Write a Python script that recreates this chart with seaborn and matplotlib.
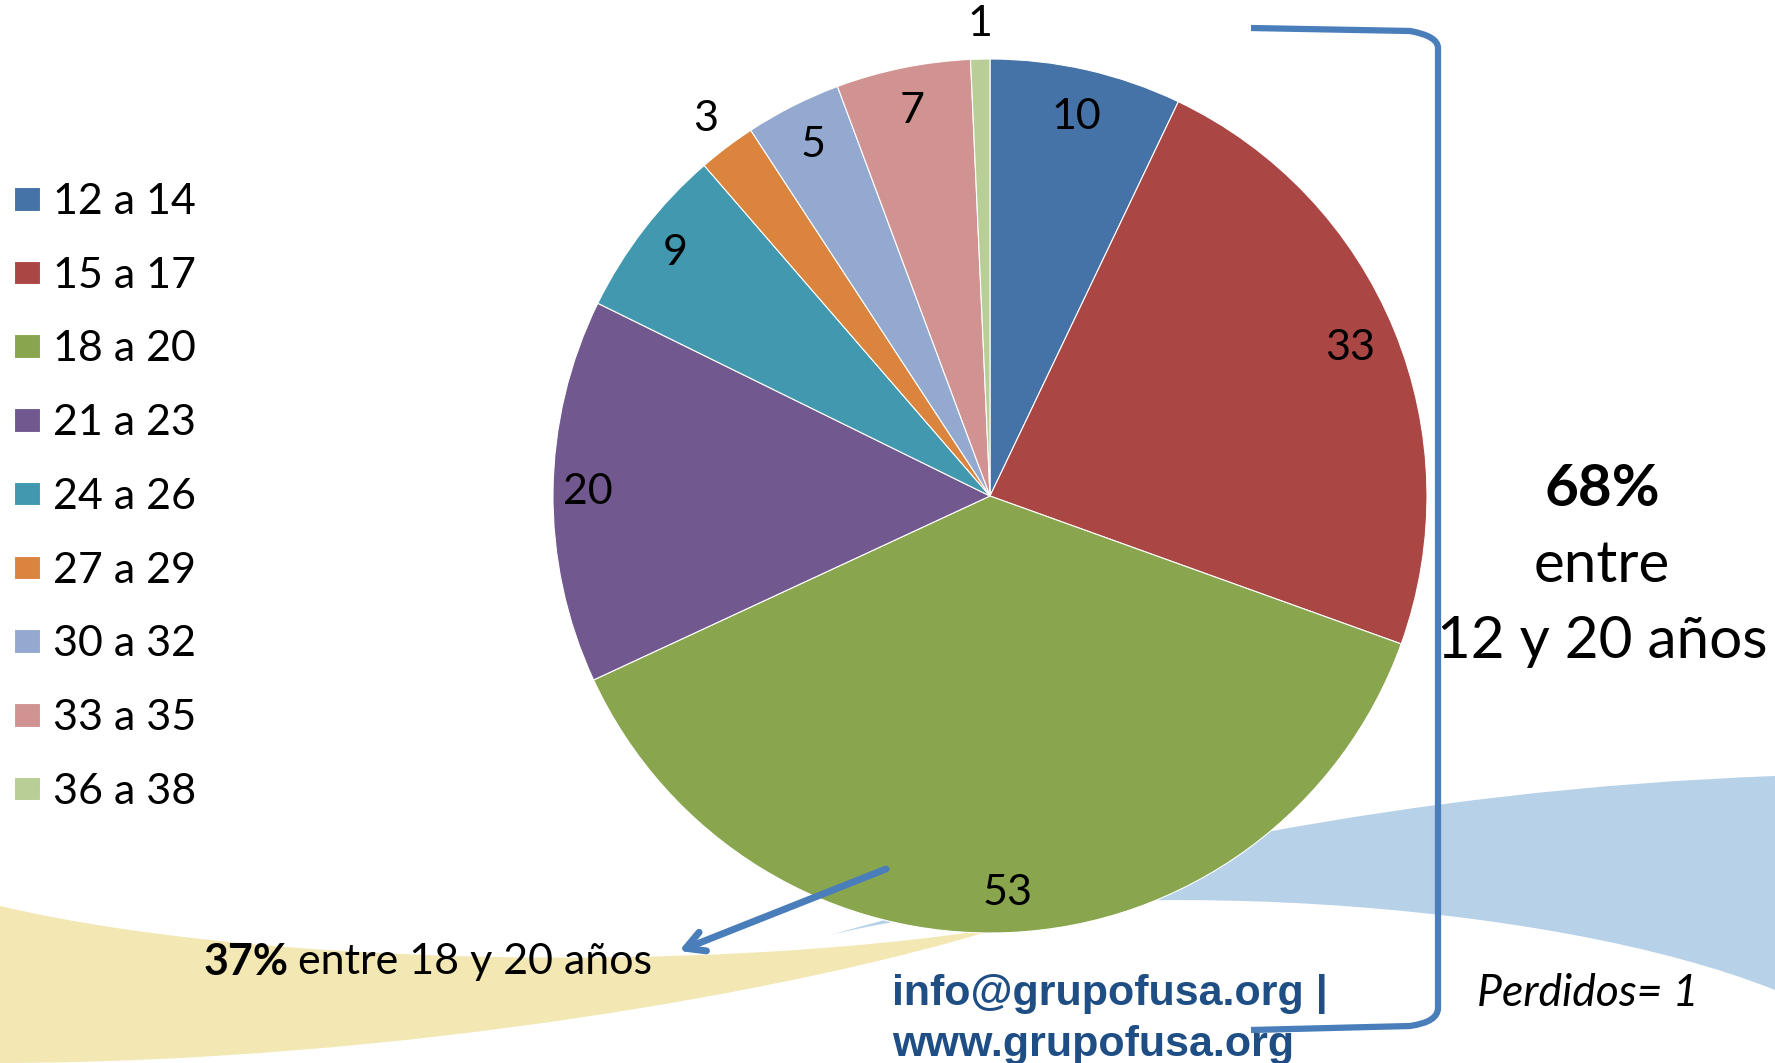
import matplotlib
matplotlib.use('Agg')
import matplotlib.pyplot as plt
import seaborn as sns
import numpy as np
from matplotlib.path import Path
from matplotlib.patches import PathPatch
from matplotlib import font_manager as fm

# ---------------- data ----------------
categories = ['12 a 14', '15 a 17', '18 a 20', '21 a 23', '24 a 26',
              '27 a 29', '30 a 32', '33 a 35', '36 a 38']
values = [10, 33, 53, 20, 9, 3, 5, 7, 1]
value_labels = [str(v) for v in values]
colors_hex = ['#4572A7', '#AA4643', '#89A54E', '#71588F', '#4198AF',
              '#DB843D', '#93A9CF', '#D19392', '#B9CD96']
label_dist = [0.89, 0.89, 0.91, 0.92, 0.91, 1.08, 0.90, 0.90, 1.08]

# ---------------- style ----------------
sns.set_theme(style='white')
names = {f.name for f in fm.fontManager.ttflist}
main_font = 'Lato' if 'Lato' in names else 'Open Sans'
plt.rcParams['font.family'] = [main_font, 'DejaVu Sans']
palette = sns.color_palette(colors_hex)

W, H = 1775, 1063
fig = plt.figure(figsize=(W / 100, H / 100), dpi=100)
ax = fig.add_axes([0, 0, 1, 1])


def Y(y):
    return H - y


# ---------------- background swooshes ----------------
yellow = Path([(0, Y(906)), (250, Y(965)), (700, Y(975)), (1000, Y(928)),
               (800, Y(990)), (400, Y(1062)), (0, Y(1063)), (0, Y(906))],
              [Path.MOVETO, Path.CURVE4, Path.CURVE4, Path.CURVE4,
               Path.CURVE4, Path.CURVE4, Path.CURVE4, Path.CLOSEPOLY])
ax.add_patch(PathPatch(yellow, facecolor='#F3E7B3', edgecolor='none', zorder=0))
blue = Path([(830, Y(935)), (1100, Y(860)), (1400, Y(790)), (1775, Y(776)),
             (1775, Y(990)), (1550, Y(900)), (1100, Y(870)), (830, Y(935)),
             (830, Y(935))],
            [Path.MOVETO, Path.CURVE4, Path.CURVE4, Path.CURVE4,
             Path.LINETO, Path.CURVE4, Path.CURVE4, Path.CURVE4, Path.CLOSEPOLY])
ax.add_patch(PathPatch(blue, facecolor='#B7D1E8', edgecolor='none', zorder=0.5))

# ---------------- pie ----------------
cx, cy, r = 990, Y(496), 437
wedges, _ = ax.pie(values, colors=palette, startangle=90, counterclock=False,
                   center=(cx, cy), radius=r, frame=True,
                   wedgeprops=dict(linewidth=0.8, edgecolor='white', zorder=2))
for w, lab, d in zip(wedges, value_labels, label_dist):
    ang = np.deg2rad((w.theta1 + w.theta2) / 2)
    ax.text(cx + d * r * np.cos(ang), cy + d * r * np.sin(ang), lab,
            ha='center', va='center', fontsize=31, color='black', zorder=3)

ax.set_xlim(0, W)
ax.set_ylim(0, H)
ax.set_aspect('equal')
ax.set_axis_off()

# ---------------- legend ----------------
leg = ax.legend(wedges, categories, loc='upper left',
                bbox_to_anchor=(14 / W, 1 - 183 / H), frameon=False,
                fontsize=31, handlelength=0.6, handleheight=0.47,
                handletextpad=0.3, labelspacing=0.83, borderpad=0,
                borderaxespad=0)
for t in leg.get_texts():
    t.set_color('black')

# ---------------- annotations ----------------
blue_line = '#4A7EBB'
bracket = Path([(1251, Y(28)), (1410, Y(31)), (1438, Y(36)), (1438, Y(48)),
                (1438, Y(1008)), (1438, Y(1022)), (1410, Y(1026)), (1251, Y(1030))],
               [Path.MOVETO, Path.LINETO, Path.CURVE3, Path.CURVE3,
                Path.LINETO, Path.CURVE3, Path.CURVE3, Path.LINETO])
ax.add_patch(PathPatch(bracket, facecolor='none', edgecolor=blue_line,
                       linewidth=4.5, zorder=4, capstyle='butt'))

ax.text(1602, Y(490), '68%', fontsize=42, fontweight='bold', ha='center',
        va='center', color='black', zorder=5)
ax.text(1602, Y(566), 'entre', fontsize=42, ha='center', va='center',
        color='black', zorder=5)
ax.text(1602, Y(642), '12 y 20 años', fontsize=42, ha='center', va='center',
        color='black', zorder=5)

ax.annotate('', xy=(679, Y(951)), xytext=(886, Y(869)),
            arrowprops=dict(arrowstyle='->,head_length=1.1,head_width=0.6',
                            color=blue_line, lw=5, shrinkA=0, shrinkB=0),
            zorder=5)
ax.text(204, Y(962), '37%', fontsize=31, fontweight='bold', ha='left',
        va='center', color='black', zorder=5)
ax.text(298, Y(962), 'entre 18 y 20 años', fontsize=31, ha='left',
        va='center', color='black', zorder=5)

url_font = ['Liberation Sans', 'DejaVu Sans']
ax.text(892, Y(994), 'info@grupofusa.org |', fontsize=31, fontweight='bold',
        family=url_font, ha='left', va='center', color='#1F4E85', zorder=5)
ax.text(892, Y(1045), 'www.grupofusa.org', fontsize=31, fontweight='bold',
        family=url_font, ha='left', va='center', color='#1F4E85', zorder=5)

ax.text(1477, Y(993), 'Perdidos= 1', fontsize=32, style='italic', ha='left',
        va='center', color='black', zorder=5)

fig.savefig('out.png', dpi=100, facecolor='white')
